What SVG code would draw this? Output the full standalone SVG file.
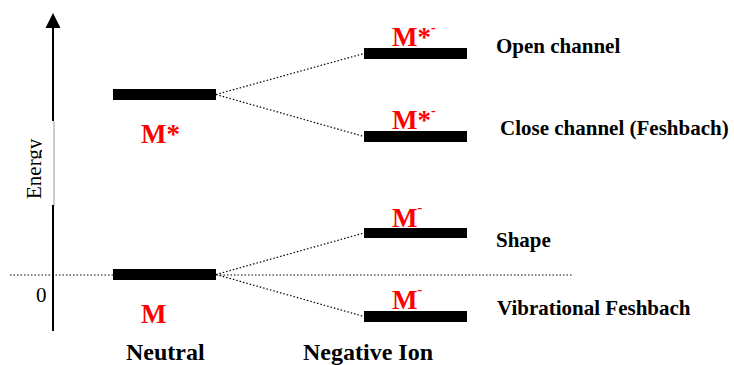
<svg xmlns="http://www.w3.org/2000/svg" width="734" height="365" viewBox="0 0 734 365">
<style>
.bar{fill:#000}
.dot{stroke:#000;stroke-width:1.2;stroke-dasharray:1.5 2;fill:none}
.lab{font-family:"Liberation Serif",serif;font-weight:bold;fill:#FF0000;font-size:27px}
.sup{font-size:14px}
.desc{font-family:"Liberation Serif",serif;font-weight:bold;fill:#000;font-size:21px}
.axis{font-family:"Liberation Serif",serif;font-weight:bold;fill:#000;font-size:24px}
</style>
<defs>
<clipPath id="eclip"><rect x="0" y="100" width="42" height="120"/></clipPath>
</defs>
<rect width="734" height="365" fill="#fff"/>
<g id="axis">
<polygon points="53,13 45.5,28 60.5,28" fill="#000"/>
<line x1="53" y1="27" x2="53" y2="121" stroke="#000" stroke-width="2"/>
<line x1="54" y1="121" x2="54" y2="206" stroke="#999" stroke-width="1"/>
<line x1="53" y1="205" x2="53" y2="331" stroke="#000" stroke-width="2"/>
<g clip-path="url(#eclip)"><text transform="translate(41,199) rotate(-90)" font-family="Liberation Serif, serif" font-size="21" fill="#000">Energy</text></g>
<text x="36" y="302" font-family="Liberation Serif, serif" font-size="21" fill="#000">0</text>
</g>
<g id="connectors">
<line class="dot" x1="10" y1="275" x2="572" y2="275"/>
<line class="dot" x1="216" y1="94.5" x2="364" y2="53.5"/>
<line class="dot" x1="216" y1="94.5" x2="364" y2="136.5"/>
<line class="dot" x1="216" y1="274.5" x2="364" y2="233"/>
<line class="dot" x1="216" y1="274.5" x2="364" y2="316.5"/>
</g>
<g id="neutral-excited">
<rect class="bar" x="113" y="89" width="103" height="11"/>
<text class="lab" x="141" y="143">M*</text>
</g>
<g id="neutral-ground">
<rect class="bar" x="113" y="269" width="103" height="11"/>
<text class="lab" x="141" y="323">M</text>
</g>
<g id="open-channel">
<rect class="bar" x="364" y="48" width="103" height="11"/>
<text class="lab" x="392" y="46">M*<tspan class="sup" dy="-14">-</tspan></text>
<text class="desc" x="496" y="53">Open channel</text>
</g>
<g id="close-channel">
<rect class="bar" x="364" y="131" width="103" height="11"/>
<text class="lab" x="392" y="129">M*<tspan class="sup" dy="-14">-</tspan></text>
<text class="desc" x="500" y="135">Close channel (Feshbach)</text>
</g>
<g id="shape">
<rect class="bar" x="364" y="228" width="103" height="10"/>
<text class="lab" x="392" y="227">M<tspan class="sup" dy="-15">-</tspan></text>
<text class="desc" x="496" y="247">Shape</text>
</g>
<g id="vibrational-feshbach">
<rect class="bar" x="364" y="311" width="103" height="11"/>
<text class="lab" x="392" y="309">M<tspan class="sup" dy="-15">-</tspan></text>
<text class="desc" x="497" y="315">Vibrational Feshbach</text>
</g>
<g id="column-labels">
<text class="axis" x="126" y="360">Neutral</text>
<text class="axis" x="303" y="360">Negative Ion</text>
</g>
</svg>
